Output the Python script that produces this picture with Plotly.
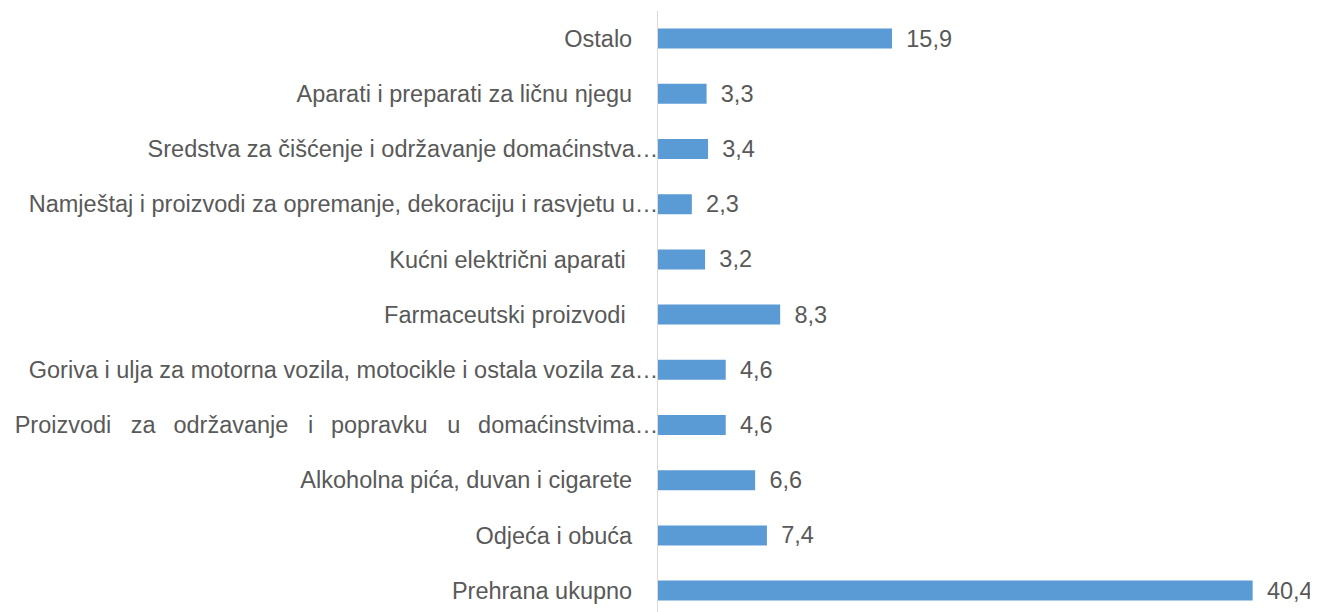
import plotly.graph_objects as go

# Categories listed top to bottom
categories = [
    "Ostalo",
    "Aparati i preparati za ličnu njegu",
    "Sredstva za čišćenje i održavanje domaćinstva…",
    "Namještaj i proizvodi za opremanje, dekoraciju i rasvjetu u…",
    "Kućni električni aparati",
    "Farmaceutski proizvodi",
    "Goriva i ulja za motorna vozila, motocikle i ostala vozila za…",
    "Proizvodi za održavanje i popravku u domaćinstvima…",
    "Alkoholna pića, duvan i cigarete",
    "Odjeća i obuća",
    "Prehrana ukupno",
]
values = [15.9, 3.3, 3.4, 2.3, 3.2, 8.3, 4.6, 4.6, 6.6, 7.4, 40.4]

NB = "\u00a0"
THIN = "\u2009"
FONT = "Liberation Sans, Arial, sans-serif"
FS = 23.5

def justify(name):
    words = name.split(" ")
    out = words[0]
    for i, w in enumerate(words[1:]):
        gap = NB * 3 if i % 2 == 0 else NB * 2 + THIN
        out += gap + w
    return out

def display_label(name):
    if name.endswith("…"):
        if name.startswith("Proizvodi za"):
            return justify(name)
        return name
    extra = 5 if name in ("Kućni električni aparati", "Farmaceutski proizvodi") else 4
    return name + NB * extra

ticktext = [display_label(c) for c in categories]

fig = go.Figure(
    go.Bar(
        x=values,
        y=categories,
        orientation="h",
        marker=dict(color="#5B9BD5", line=dict(width=0)),
        texttemplate=NB + THIN + "%{x:.1f}",
        textposition="outside",
        textfont=dict(family=FONT, size=FS, color="#595959"),
        cliponaxis=False,
        constraintext="none",
        hoverinfo="skip",
    )
)

fig.update_layout(
    width=1310,
    height=604,
    margin=dict(l=650, r=0, t=3, b=0, autoexpand=False),
    paper_bgcolor="white",
    plot_bgcolor="white",
    separators=", ",
    bargap=0.638,
    showlegend=False,
    font=dict(family=FONT, size=FS, color="#595959"),
    xaxis=dict(
        range=[0, 44.84],
        showgrid=False,
        zeroline=False,
        showticklabels=False,
        showline=False,
        ticks="",
        automargin=False,
    ),
    yaxis=dict(
        type="category",
        categoryorder="array",
        categoryarray=categories,
        tickvals=categories,
        ticktext=ticktext,
        range=[10.388, -0.5],
        showgrid=False,
        zeroline=False,
        showline=True,
        linecolor="#D9D9D9",
        linewidth=1,
        ticks="",
        ticklabelstandoff=-6,
        automargin=False,
        tickfont=dict(family=FONT, size=FS, color="#595959"),
    ),
)

fig.write_html("out.html")
